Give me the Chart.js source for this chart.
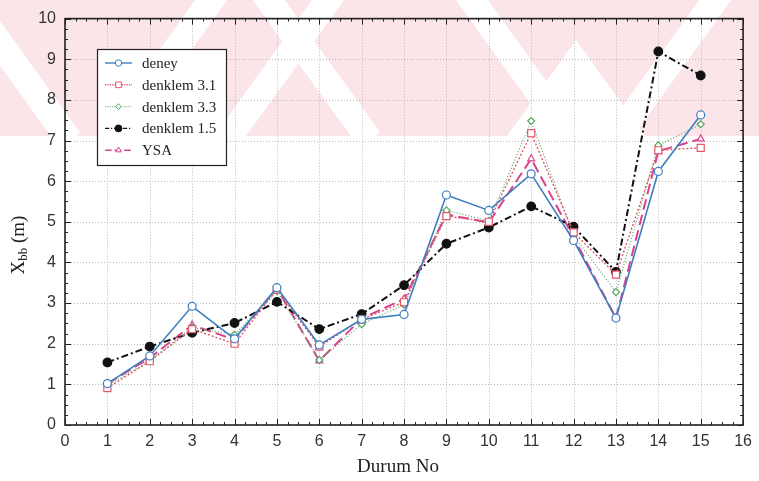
<!DOCTYPE html>
<html lang="tr">
<head>
<meta charset="UTF-8">
<title>Durum No - Xbb</title>
<script src="https://cdn.jsdelivr.net/npm/chart.js@4.4.1/dist/chart.umd.min.js"></script>
<style>
  html, body { margin: 0; padding: 0; background: #fff; }
  #wrap { width: 759px; height: 481px; position: relative; }
</style>
</head>
<body>
<div id="wrap"><canvas id="chart" width="759" height="481"></canvas></div>
<script>
// case numbers and the five series of Xbb (m)
const durumNo = [1, 2, 3, 4, 5, 6, 7, 8, 9, 10, 11, 12, 13, 14, 15]
const deney = [1.02, 1.70, 2.92, 2.12, 3.38, 1.97, 2.60, 2.72, 5.66, 5.28, 6.18, 4.54, 2.63, 6.24, 7.63]
const denklem31 = [0.91, 1.57, 2.36, 2.00, 3.33, 1.93, 2.60, 3.02, 5.14, 5.00, 7.18, 4.74, 3.70, 6.76, 6.82]
const denklem33 = [0.97, 1.58, 2.40, 2.22, 3.30, 1.60, 2.48, 2.96, 5.28, 5.02, 7.48, 4.66, 3.27, 6.88, 7.40]
const denklem15 = [1.54, 1.93, 2.27, 2.51, 3.03, 2.36, 2.73, 3.44, 4.46, 4.86, 5.38, 4.88, 3.77, 9.19, 8.60]
const ysa = [1.02, 1.65, 2.46, 2.10, 3.37, 1.58, 2.62, 3.10, 5.18, 4.98, 6.55, 4.62, 2.63, 6.74, 7.04]
const xTickValues = [0, 1, 2, 3, 4, 5, 6, 7, 8, 9, 10, 11, 12, 13, 14, 15, 16]
const yTickValues = [0, 1, 2, 3, 4, 5, 6, 7, 8, 9, 10]

const SANS = '"Liberation Sans", Arial, sans-serif'
const SERIF = '"Liberation Serif", "Times New Roman", serif'

const pts = (arr) => durumNo.map((x, i) => ({ x, y: arr[i] }))

const series = [
  { label: 'deney', data: deney, color: '#3f7fc0', fill: '#ffffff', style: 'circle', r: 4, dash: [], w: 1.6 },
  { label: 'denklem 3.1', data: denklem31, color: '#e4576a', fill: '#ffffff', style: 'rect', r: 5, dash: [2, 2], w: 1.4 },
  { label: 'denklem 3.3', data: denklem33, color: '#4fa65c', fill: '#ffffff', style: 'rectRot', r: 3.5, dash: [1, 2], w: 1.2 },
  { label: 'denklem 1.5', data: denklem15, color: '#111111', fill: '#111111', style: 'circle', r: 4.3, dash: [7, 3, 2, 3], w: 2 },
  { label: 'YSA', data: ysa, color: '#d9428c', fill: '#ffffff', style: 'triangle', r: 4, dash: [11, 5], w: 2 },
]

// faint pink background band with white stripes
const backdrop = {
  id: 'backdrop',
  beforeDraw(chart) {
    const { ctx, width } = chart
    const band = 136
    ctx.save()
    ctx.fillStyle = '#ffffff'
    ctx.fillRect(0, 0, width, chart.height)
    ctx.beginPath()
    ctx.rect(0, 0, width, band)
    ctx.clip()
    ctx.fillStyle = '#fce5e8'
    ctx.fillRect(0, 0, width, band)
    ctx.strokeStyle = '#ffffff'
    ctx.lineWidth = 26
    ctx.lineJoin = 'miter'
    const chevrons = [[-60, -40], [240, -40], [400, -100], [780, -90]]
    for (const [cx, ay] of chevrons) {
      const dx = 0.72 * (band + 4 - ay)
      ctx.beginPath()
      ctx.moveTo(cx - dx, band + 4)
      ctx.lineTo(cx, ay)
      ctx.lineTo(cx + dx, band + 4)
      ctx.stroke()
    }
    ctx.fillStyle = '#ffffff'
    ctx.beginPath()
    ctx.moveTo(576, 40)
    ctx.lineTo(576 + 0.72 * (band - 40), band)
    ctx.lineTo(576 - 0.72 * (band - 40), band)
    ctx.closePath()
    ctx.fill()
    ctx.restore()
  },
}

// dotted grid, inward ticks and black frame
const frame = {
  id: 'frame',
  beforeDatasetsDraw(chart) {
    const { ctx, chartArea: a, scales: { x, y } } = chart
    ctx.save()
    ctx.strokeStyle = '#b9b9b9'
    ctx.lineWidth = 1
    ctx.setLineDash([1, 2])
    for (const v of xTickValues) {
      const px = Math.round(x.getPixelForValue(v)) + 0.5
      ctx.beginPath(); ctx.moveTo(px, a.top); ctx.lineTo(px, a.bottom); ctx.stroke()
    }
    for (const v of yTickValues) {
      const py = Math.round(y.getPixelForValue(v)) + 0.5
      ctx.beginPath(); ctx.moveTo(a.left, py); ctx.lineTo(a.right, py); ctx.stroke()
    }
    ctx.setLineDash([])
    ctx.strokeStyle = '#222'
    ctx.lineWidth = 1
    for (let v = 0; v <= 16.001; v += 0.25) {
      const px = Math.round(x.getPixelForValue(v)) + 0.5
      const len = Math.abs(v - Math.round(v)) < 1e-6 ? 6 : 3
      ctx.beginPath()
      ctx.moveTo(px, a.bottom); ctx.lineTo(px, a.bottom - len)
      ctx.moveTo(px, a.top); ctx.lineTo(px, a.top + len)
      ctx.stroke()
    }
    for (let v = 0; v <= 10.001; v += 0.25) {
      const py = Math.round(y.getPixelForValue(v)) + 0.5
      const len = Math.abs(v - Math.round(v)) < 1e-6 ? 6 : 3
      ctx.beginPath()
      ctx.moveTo(a.left, py); ctx.lineTo(a.left + len, py)
      ctx.moveTo(a.right, py); ctx.lineTo(a.right - len, py)
      ctx.stroke()
    }
    ctx.lineWidth = 1.6
    ctx.strokeRect(a.left, a.top, a.right - a.left, a.bottom - a.top)
    ctx.restore()
  },
  afterDraw(chart) {
    const { ctx } = chart
    ctx.save()
    // axis titles
    ctx.fillStyle = '#222'
    ctx.textAlign = 'center'
    ctx.textBaseline = 'middle'
    ctx.font = '19px ' + SERIF
    ctx.fillText('Durum No', 398, 467)
    ctx.translate(19, 245)
    ctx.rotate(-Math.PI / 2)
    ctx.textAlign = 'left'
    ctx.font = '19px ' + SERIF
    const w1 = ctx.measureText('X').width
    ctx.font = '13px ' + SERIF
    const w2 = ctx.measureText('bb').width
    ctx.font = '19px ' + SERIF
    const w3 = ctx.measureText(' (m)').width
    let tx = -(w1 + w2 + w3) / 2
    ctx.fillText('X', tx, 0); tx += w1
    ctx.font = '13px ' + SERIF
    ctx.fillText('bb', tx, 5); tx += w2
    ctx.font = '19px ' + SERIF
    ctx.fillText(' (m)', tx, 0)
    ctx.restore()

    // legend box
    ctx.save()
    const bx = 97, by = 49, bw = 129, bh = 116
    ctx.fillStyle = '#ffffff'
    ctx.fillRect(bx, by, bw, bh)
    ctx.strokeStyle = '#222'
    ctx.lineWidth = 1.2
    ctx.strokeRect(bx + 0.5, by + 0.5, bw, bh)
    chart.data.datasets.forEach((ds, i) => {
      const cy = 63 + i * 21.8
      ctx.strokeStyle = ds.borderColor
      ctx.lineWidth = Math.min(ds.borderWidth, 1.4)
      ctx.setLineDash(ds.borderDash.map((d) => d * 0.6))
      ctx.beginPath(); ctx.moveTo(105, cy); ctx.lineTo(132, cy); ctx.stroke()
      ctx.setLineDash([])
      ctx.fillStyle = ds.pointBackgroundColor
      ctx.strokeStyle = ds.borderColor
      ctx.lineWidth = 1
      Chart.helpers.drawPoint(ctx, { pointStyle: ds.pointStyle, radius: ds.pointRadius * 0.8, rotation: 0, borderWidth: 1 }, 118.5, cy)
      ctx.fillStyle = '#222'
      ctx.font = '15px ' + SERIF
      ctx.textAlign = 'left'
      ctx.textBaseline = 'middle'
      ctx.fillText(ds.label, 142, cy + 1)
    })
    ctx.restore()
  },
}

new Chart(document.getElementById('chart'), {
  type: 'line',
  data: {
    datasets: series.map((s) => ({
      label: s.label,
      data: pts(s.data),
      borderColor: s.color,
      backgroundColor: s.fill,
      pointBackgroundColor: s.fill,
      pointBorderColor: s.color,
      pointStyle: s.style,
      pointRadius: s.r,
      pointBorderWidth: 1.2,
      borderDash: s.dash,
      borderWidth: s.w,
      tension: 0,
      fill: false,
    })),
  },
  options: {
    responsive: false,
    animation: false,
    devicePixelRatio: 1,
    layout: { padding: { top: 10, right: 12, left: 0, bottom: 0 } },
    plugins: { legend: { display: false }, tooltip: { enabled: false } },
    scales: {
      x: {
        type: 'linear',
        min: 0,
        max: 16,
        afterFit: (s) => { s.height = 56 },
        afterBuildTicks: (s) => { s.ticks = xTickValues.map((v) => ({ value: v })) },
        grid: { display: false, drawTicks: false },
        border: { display: false },
        ticks: { color: '#333', font: { family: SANS, size: 16 }, padding: 7, maxRotation: 0, autoSkip: false },
      },
      y: {
        min: 0,
        max: 10,
        afterFit: (s) => { s.width = 65 },
        afterBuildTicks: (s) => { s.ticks = yTickValues.map((v) => ({ value: v })) },
        grid: { display: false, drawTicks: false },
        border: { display: false },
        ticks: { color: '#333', font: { family: SANS, size: 16 }, padding: 9 },
      },
    },
  },
  plugins: [backdrop, frame],
})
</script>
</body>
</html>
